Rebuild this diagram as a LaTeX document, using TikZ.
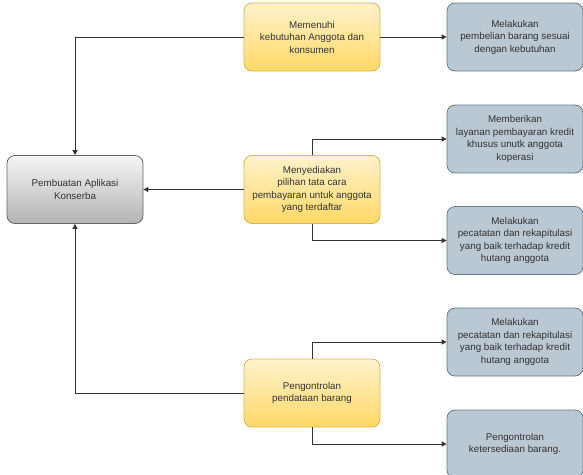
\documentclass[tikz,border=0pt]{standalone}
\usepackage{fontspec}
\setmainfont{Liberation Sans}
\usetikzlibrary{arrows.meta}
\definecolor{ink}{HTML}{333333}
\definecolor{goldtop}{HTML}{FFF2CC}
\definecolor{goldbot}{HTML}{FFD966}
\definecolor{goldline}{HTML}{D6B656}
\definecolor{slate}{HTML}{BAC8D3}
\definecolor{slateline}{HTML}{23445D}
\definecolor{greytop}{HTML}{F5F5F5}
\definecolor{greybot}{HTML}{B3B3B3}
\definecolor{greyline}{HTML}{666666}
\tikzset{box/.style={rounded corners=8pt,minimum width=136pt,minimum height=68pt,
 align=center,text=ink,font=\fontsize{9.8}{12.5}\selectfont,line width=.8pt},
goal/.style={box,draw=goldline,top color=goldtop,bottom color=goldbot},
act/.style={box,draw=slateline!70,fill=slate},
core/.style={box,draw=greyline,top color=greytop,bottom color=greybot},
link/.style={-{Triangle[length=5pt,width=5pt]},line width=1pt,ink}}

\begin{document}
\begin{tikzpicture}[x=1pt,y=-1pt]
\clip (0,0) rectangle (583,474);
\fill[white] (0,0) rectangle (583,474);
% main box
\node[core] (aplikasi) at (75,189.5) {Pembuatan Aplikasi\\Konserba};
% middle column
\node[goal] (memenuhi) at (312,37) {Memenuhi\\kebutuhan Anggota dan\\konsumen};
\node[goal] (pilihan) at (312,189.5) {Menyediakan\\pilihan tata cara\\pembayaran untuk anggota\\yang terdaftar};
\node[goal] (kontrol) at (312,393) {Pengontrolan\\pendataan barang};
% right column
\node[act] (beli) at (515,37) {Melakukan\\pembelian barang sesuai\\dengan kebutuhan};
\node[act] (kredit) at (515,139) {Memberikan\\layanan pembayaran kredit\\khusus unutk anggota\\koperasi};
\node[act] (rekap) at (515,240.5) {Melakukan\\pecatatan dan rekapitulasi\\yang baik terhadap kredit\\hutang anggota};
\node[act] (rekapb) at (515,342) {Melakukan\\pecatatan dan rekapitulasi\\yang baik terhadap kredit\\hutang anggota};
\node[act] (sedia) at (515,444) {Pengontrolan\\ketersediaan barang.};
% connectors
\draw[link] (memenuhi.west) -| (aplikasi.north);
\draw[link] (memenuhi.east) -- (beli.west);
\draw[link] (pilihan.west) -- (aplikasi.east);
\draw[link] (pilihan.north) |- (kredit.west);
\draw[link] (pilihan.south) |- (rekap.west);
\draw[link] (kontrol.west) -| (aplikasi.south);
\draw[link] (kontrol.north) |- (rekapb.west);
\draw[link] (kontrol.south) |- (sedia.west);
\end{tikzpicture}
\end{document}
